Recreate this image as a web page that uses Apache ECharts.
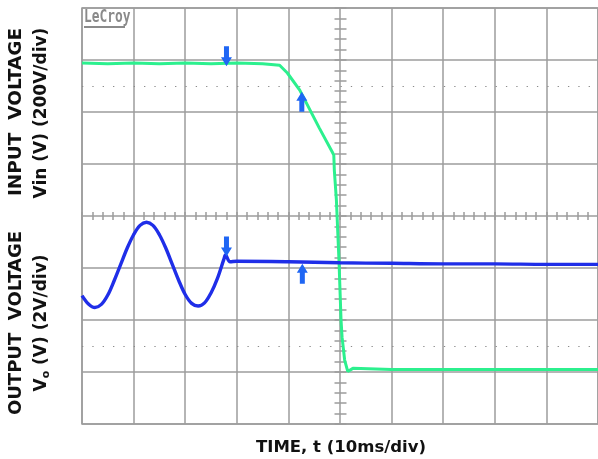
<!DOCTYPE html>
<html><head><meta charset="utf-8">
<script src="https://cdn.jsdelivr.net/npm/echarts@6/dist/echarts.min.js"></script>
<style>html,body{margin:0;padding:0;background:#fff}#c{width:598px;height:459px}</style>
</head><body><div id="c"></div>
<script>
// time in ms (10 ms/div), vertical position in divisions (0..8 from bottom)
const tIn = [0, 5, 10, 15, 20, 25, 30, 35, 38.3, 39.8, 42.2, 46.0, 48.5, 48.8, 48.9, 49.3, 49.8, 50.2, 50.4, 50.9, 51.5, 52.5, 60, 70, 80, 90, 100];
const vIn = [6.94, 6.93, 6.94, 6.93, 6.94, 6.93, 6.94, 6.93, 6.90, 6.75, 6.42, 5.69, 5.23, 5.17, 4.88, 4.31, 3.15, 2.0, 1.67, 1.23, 1.01, 1.07, 1.05, 1.05, 1.05, 1.05, 1.05];
const tOut = [0, 1.25, 2.5, 3.75, 5, 6.25, 7.5, 8.75, 10, 11.25, 12.5, 13.75, 15, 16.25, 17.5, 18.75, 20, 21.25, 22.5, 23.75, 25, 26.25, 27.5, 27.8, 28.7, 30, 40, 50, 60, 70, 80, 90, 100];
const vOut = [2.47, 2.31, 2.24, 2.30, 2.48, 2.76, 3.07, 3.38, 3.64, 3.82, 3.88, 3.82, 3.64, 3.38, 3.07, 2.76, 2.49, 2.32, 2.27, 2.33, 2.52, 2.80, 3.17, 3.25, 3.12, 3.13, 3.12, 3.10, 3.09, 3.08, 3.08, 3.07, 3.07];
const arrowDown = [[28.0, 6.88], [28.0, 3.22]];
const arrowUp = [[42.6, 6.39], [42.7, 3.08]];
const dottedLevels = [6.5, 1.5];
const xTitle = 'TIME, t (10ms/div)';

const GRAY = '#9c9c9c';
const zip = (a, b) => a.map((v, i) => [v, b[i]]);
const DOWN = 'path://M3,0 L8,0 L8,11 L11,11 L5.5,20 L0,11 L3,11 Z';
const UP = 'path://M5.5,0 L11,9 L8,9 L8,20 L3,20 L3,9 L0,9 Z';

const chart = echarts.init(document.getElementById('c'), null, {renderer: 'canvas'});
const tickAxisX = (inside) => ({
  type: 'value', min: 0, max: 100, interval: 10, position: 'bottom', offset: -208,
  axisLine: {show: false}, axisLabel: {show: false}, splitLine: {show: false},
  axisTick: {show: true, inside: inside, length: 4, lineStyle: {color: GRAY, width: 1.5}},
  minorTick: {show: true, splitNumber: 5, length: 4, lineStyle: {color: GRAY, width: 1.5}}
});
const tickAxisY = (inside) => ({
  type: 'value', min: 0, max: 8, interval: 1, position: 'right', offset: -258.5,
  axisLine: {show: false}, axisLabel: {show: false}, splitLine: {show: false},
  axisTick: {show: true, inside: inside, length: 6, lineStyle: {color: GRAY, width: 1.5}},
  minorTick: {show: true, splitNumber: 5, length: 6, lineStyle: {color: GRAY, width: 1.5}}
});
const TF = 'bold 17px "DejaVu Sans"';
chart.setOption({
  animation: false,
  backgroundColor: '#fff',
  grid: {left: 82, top: 8, width: 517, height: 416, show: true, borderColor: GRAY, borderWidth: 1.5, backgroundColor: 'transparent'},
  xAxis: [
    {type: 'value', min: 0, max: 100, interval: 10, axisLine: {show: false}, axisTick: {show: false}, axisLabel: {show: false},
     splitLine: {show: true, lineStyle: {color: GRAY, width: 1.5}}},
    tickAxisX(false), tickAxisX(true)
  ],
  yAxis: [
    {type: 'value', min: 0, max: 8, interval: 1, axisLine: {show: false}, axisTick: {show: false}, axisLabel: {show: false},
     splitLine: {show: true, lineStyle: {color: GRAY, width: 1.5}}},
    tickAxisY(false), tickAxisY(true)
  ],
  series: [
    {type: 'line', data: [], silent: true,
     markLine: {silent: true, symbol: 'none', label: {show: false},
       lineStyle: {color: '#8a8a8a', width: 1, type: [1.3, 9.04]},
       data: dottedLevels.map(v => ({yAxis: v}))}},
    {type: 'line', name: 'Vin', data: zip(tIn, vIn), showSymbol: false, smooth: false,
     lineStyle: {color: '#2cf08e', width: 3}, z: 3},
    {type: 'line', name: 'Vo', data: zip(tOut, vOut), showSymbol: false, smooth: 0.35,
     lineStyle: {color: '#1f2ee8', width: 3.4}, z: 4},
    {type: 'scatter', data: arrowDown, symbol: DOWN, symbolSize: [11, 20], symbolOffset: [0, -10],
     itemStyle: {color: '#1f66f4', opacity: 1}, z: 6},
    {type: 'scatter', data: arrowUp, symbol: UP, symbolSize: [11, 20], symbolOffset: [0, 10],
     itemStyle: {color: '#1f66f4', opacity: 1}, z: 6}
  ],
  graphic: [
    {type: 'text', x: 84, y: 8, scaleX: 0.92, scaleY: 1.3, z: 10, style: {text: 'LeCroy', fill: '#8a8a8a', font: 'bold 14px "DejaVu Sans Mono"'}},
    {type: 'rect', left: 84, top: 26, z: 10, shape: {width: 41, height: 2}, style: {fill: '#8a8a8a'}},
    {type: 'text', x: 16, y: 112, rotation: Math.PI / 2, z: 10,
     style: {text: 'INPUT  VOLTAGE', fill: '#111', font: 'bold 18.5px "DejaVu Sans"', align: 'center', verticalAlign: 'middle'}},
    {type: 'text', x: 42, y: 113, rotation: Math.PI / 2, z: 10,
     style: {text: 'Vin (V) (200V/div)', fill: '#111', font: TF, align: 'center', verticalAlign: 'middle'}},
    {type: 'text', x: 16, y: 323, rotation: Math.PI / 2, z: 10,
     style: {text: 'OUTPUT  VOLTAGE', fill: '#111', font: 'bold 18px "DejaVu Sans"', align: 'center', verticalAlign: 'middle'}},
    {type: 'text', x: 42, y: 323, rotation: Math.PI / 2, z: 10,
     style: {text: 'V{s|o} (V) (2V/div)', fill: '#111', font: TF, align: 'center', verticalAlign: 'middle',
       rich: {s: {font: 'bold 11px "DejaVu Sans"', fill: '#111', padding: [8, 0, 0, 0]}}}},
    {type: 'text', x: 341, y: 448, z: 10,
     style: {text: xTitle, fill: '#111', font: 'bold 16.5px "DejaVu Sans"', align: 'center', verticalAlign: 'middle'}}
  ]
});
</script></body></html>
